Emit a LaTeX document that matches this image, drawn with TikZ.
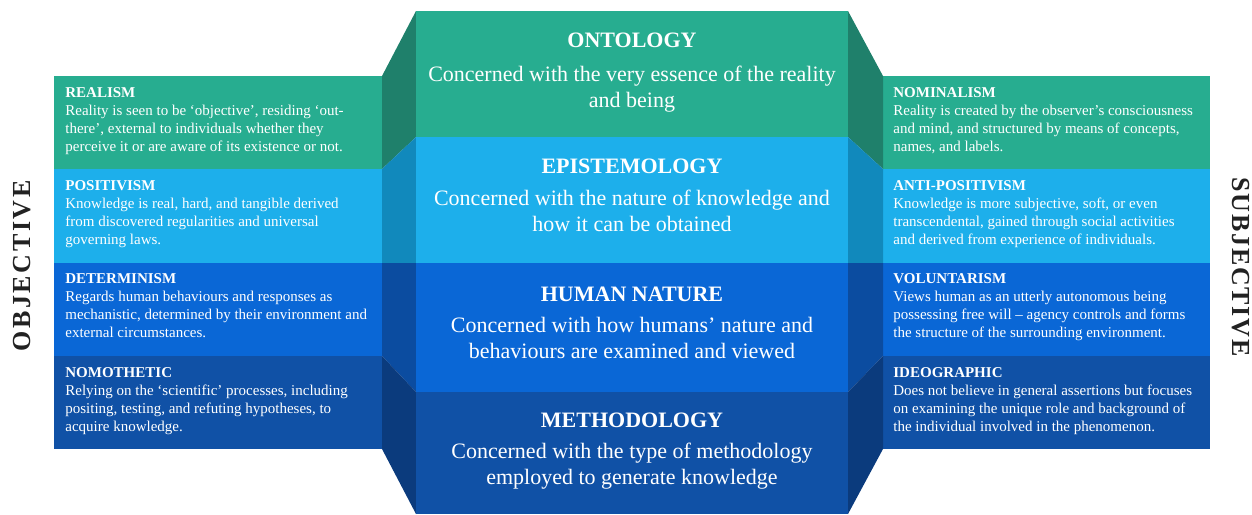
\documentclass[tikz,border=0pt]{standalone}
\usepackage{fontspec}
\setmainfont{Liberation Serif}
\definecolor{cgreen}{RGB}{39,173,144}
\definecolor{cgreenD}{RGB}{31,128,107}
\definecolor{ccyan}{RGB}{29,175,235}
\definecolor{ccyanD}{RGB}{17,137,188}
\definecolor{cblue}{RGB}{10,103,214}
\definecolor{cblueD}{RGB}{11,76,160}
\definecolor{cnavy}{RGB}{16,81,166}
\definecolor{cnavyD}{RGB}{11,59,125}
\definecolor{clabel}{RGB}{34,34,34}
\newcommand{\cblock}[1]{\begin{tabular}[t]{@{}c@{}}#1\end{tabular}}
\newcommand{\sblock}[1]{\begin{tabular}[t]{@{}l@{}}#1\end{tabular}}
\begin{document}
\begin{tikzpicture}[x=0.5pt,y=-0.5pt,
  ctitle/.style={text=white,font=\fontsize{11}{13.25}\selectfont\bfseries,anchor=base,inner sep=0pt},
  cbody/.style={text=white,font=\fontsize{11}{13.3}\selectfont,anchor=base,inner sep=0pt},
  stitle/.style={text=white,font=\fontsize{7.5}{9.2}\selectfont\bfseries,anchor=base west,inner sep=0pt},
  sbody/.style={text=white,font=\fontsize{7.5}{9.2}\selectfont,anchor=base west,inner sep=0pt},
  sidelabel/.style={text=clabel,font=\fontsize{13}{13}\selectfont\bfseries\addfontfeatures{LetterSpace=10},inner sep=0pt}
]
\useasboundingbox (0,0) rectangle (1252,514);
% side panels
\fill[cgreen] (54,76) rectangle (382,169);
\fill[ccyan] (54,169) rectangle (382,263);
\fill[cblue] (54,263) rectangle (382,356);
\fill[cnavy] (54,356) rectangle (382,449);
\fill[cgreen] (883,76) rectangle (1210,169);
\fill[ccyan] (883,169) rectangle (1210,263);
\fill[cblue] (883,263) rectangle (1210,356);
\fill[cnavy] (883,356) rectangle (1210,449);
% bevels left
\fill[cgreenD] (382,76) -- (416,11) -- (416,137) -- (382,169) -- cycle;
\fill[ccyanD] (382,169) -- (416,137) -- (416,263) -- (382,263) -- cycle;
\fill[cblueD] (382,263) -- (416,263) -- (416,392) -- (382,356) -- cycle;
\fill[cnavyD] (382,356) -- (416,392) -- (416,514) -- (382,449) -- cycle;
% bevels right
\fill[cgreenD] (883,76) -- (848,11) -- (848,137) -- (883,169) -- cycle;
\fill[ccyanD] (883,169) -- (848,137) -- (848,263) -- (883,263) -- cycle;
\fill[cblueD] (883,263) -- (848,263) -- (848,392) -- (883,356) -- cycle;
\fill[cnavyD] (883,356) -- (848,392) -- (848,514) -- (883,449) -- cycle;
% center
\fill[cgreen] (416,11) rectangle (848,137);
\fill[ccyan] (416,137) rectangle (848,263);
\fill[cblue] (416,263) rectangle (848,392);
\fill[cnavy] (416,392) rectangle (848,514);
% center texts
\node[ctitle] (ontT) at (632,47) {ONTOLOGY};
\node[cbody] (ontB) at (632,81) {\cblock{Concerned with the very essence of the reality\\and being}};
\node[ctitle] (epiT) at (632,173) {EPISTEMOLOGY};
\node[cbody] (epiB) at (632,205) {\cblock{Concerned with the nature of knowledge and\\how it can be obtained}};
\node[ctitle] (humT) at (632,301) {HUMAN NATURE};
\node[cbody] (humB) at (632,332) {\cblock{Concerned with how humans’ nature and\\behaviours are examined and viewed}};
\node[ctitle] (metT) at (632,427) {METHODOLOGY};
\node[cbody] (metB) at (632,458) {\cblock{Concerned with the type of methodology\\employed to generate knowledge}};
% left texts
\node[stitle] (reaT) at (65,97) {REALISM};
\node[sbody] (reaB) at (65,115) {\sblock{Reality is seen to be ‘objective’, residing ‘out-\\there’, external to individuals whether they\\perceive it or are aware of its existence or not.}};
\node[stitle] (posT) at (65,190) {POSITIVISM};
\node[sbody] (posB) at (65,208) {\sblock{Knowledge is real, hard, and tangible derived\\from discovered regularities and universal\\governing laws.}};
\node[stitle] (detT) at (65,283) {DETERMINISM};
\node[sbody] (detB) at (65,301) {\sblock{Regards human behaviours and responses as\\mechanistic, determined by their environment and\\external circumstances.}};
\node[stitle] (nomT) at (65,377) {NOMOTHETIC};
\node[sbody] (nomB) at (65,395) {\sblock{Relying on the ‘scientific’ processes, including\\positing, testing, and refuting hypotheses, to\\acquire knowledge.}};
% right texts
\node[stitle] (nmlT) at (893,97) {NOMINALISM};
\node[sbody] (nmlB) at (893,115) {\sblock{Reality is created by the observer’s consciousness\\and mind, and structured by means of concepts,\\names, and labels.}};
\node[stitle] (antT) at (893,190) {ANTI-POSITIVISM};
\node[sbody] (antB) at (893,208) {\sblock{Knowledge is more subjective, soft, or even\\transcendental, gained through social activities\\and derived from experience of individuals.}};
\node[stitle] (volT) at (893,283) {VOLUNTARISM};
\node[sbody] (volB) at (893,301) {\sblock{Views human as an utterly autonomous being\\possessing free will – agency controls and forms\\the structure of the surrounding environment.}};
\node[stitle] (ideT) at (893,377) {IDEOGRAPHIC};
\node[sbody] (ideB) at (893,395) {\sblock{Does not believe in general assertions but focuses\\on examining the unique role and background of\\the individual involved in the phenomenon.}};
% side labels
\node[sidelabel,rotate=90] (obj) at (22,266) {OBJECTIVE};
\node[sidelabel,rotate=-90,font=\fontsize{13}{13}\selectfont\bfseries\addfontfeatures{LetterSpace=7}] (subj) at (1241,267) {SUBJECTIVE};
\end{tikzpicture}
\end{document}
